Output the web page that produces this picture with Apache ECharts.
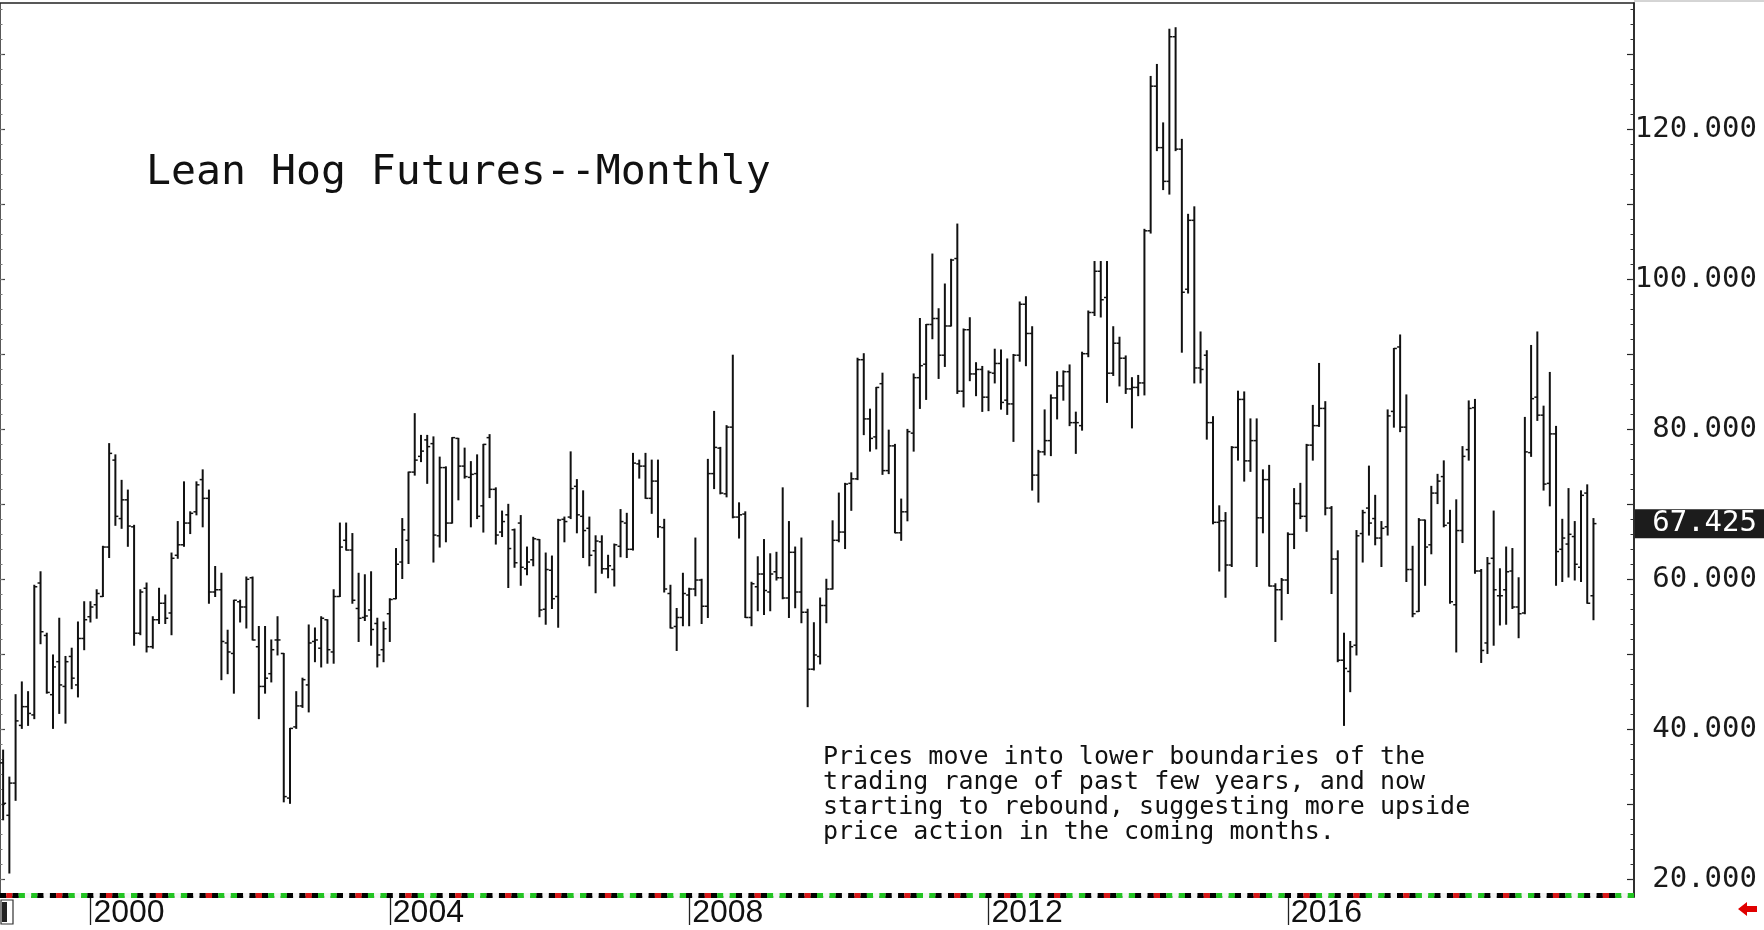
<!DOCTYPE html>
<html><head><meta charset="utf-8">
<script src="https://cdn.jsdelivr.net/npm/echarts@6/dist/echarts.min.js"></script>
<style>html,body{margin:0;padding:0;background:#fff;overflow:hidden}#c{width:1764px;height:930px}</style>
</head><body><div id="c"></div>
<script>
// ---- data ----
const startYear = 1998, startMonth = 11;   // first monthly bar: Nov 1998
const extraMonths = 6;                      // empty months to the right of the last bar
const open = [
35.5,28.5,32.8,40.5,43.0,41.9,59.5,52.5,44.6,49.0,
45.7,49.7,45.9,52.1,55.0,56.6,57.7,64.3,75.9,68.1,
70.6,67.0,52.8,58.8,51.0,54.6,56.8,55.5,63.2,64.6,
67.5,69.0,73.3,70.8,58.3,58.6,51.5,50.1,57.0,56.3,
60.2,51.0,45.7,47.4,51.9,50.1,30.8,40.3,43.1,45.9,
51.7,50.8,54.6,50.3,57.7,65.2,63.9,56.1,54.9,55.9,
54.1,50.6,55.4,57.4,62.3,65.2,74.3,76.4,78.6,78.1,
65.8,74.9,67.5,78.8,75.1,73.6,74.1,69.8,78.9,72.0,
66.3,68.6,66.6,67.5,61.4,62.6,65.3,56.0,61.2,57.7,
68.0,68.3,72.4,68.4,66.8,63.8,65.0,61.4,61.3,64.4,
67.5,64.0,75.4,75.1,70.8,73.1,66.9,58.1,53.7,54.9,
57.9,58.7,59.9,56.4,74.1,77.5,71.4,80.3,68.3,68.7,
54.9,59.0,60.7,58.3,61.0,60.2,57.5,63.6,58.3,55.6,
48.0,49.7,56.5,58.7,65.2,66.3,72.8,73.4,89.3,81.4,
79.0,86.1,74.5,77.8,66.2,69.0,79.5,86.9,88.7,94.0,
94.8,89.9,93.8,102.8,85.1,93.3,87.4,88.0,84.3,87.5,
88.8,83.9,83.4,89.9,96.7,92.8,73.9,77.0,78.5,84.2,
85.8,87.7,80.9,80.5,90.1,95.6,101.1,97.6,87.5,91.5,
89.5,85.4,85.6,86.2,106.5,125.8,117.6,113.1,132.4,117.4,
98.7,107.9,88.2,89.9,80.9,67.6,67.8,61.9,77.6,84.0,
75.8,78.5,68.2,73.3,59.1,58.6,59.9,66.0,70.1,68.4,
77.9,80.5,82.8,69.5,62.7,49.2,47.7,51.2,66.1,69.5,
68.1,65.5,67.0,82.4,91.0,80.3,61.3,55.7,67.9,64.6,
71.5,73.7,67.5,56.6,66.5,77.3,82.9,61.1,51.5,62.8,
57.8,58.6,61.1,56.3,55.5,76.9,84.3,81.9,72.8,79.4,
64.0,64.7,65.7,61.6,71.5,57.8];
const high = [
37.2,33.6,44.6,46.3,45.0,59.2,61.0,52.8,49.9,54.8,
49.7,50.8,54.3,57.0,57.0,58.6,64.4,78.1,76.6,73.2,
71.9,67.2,58.6,59.5,55.0,58.8,57.9,63.5,67.7,73.0,
69.0,73.0,74.6,71.9,61.7,60.8,53.2,57.2,57.2,60.3,
60.3,53.7,53.7,51.9,55.0,50.1,40.1,45.0,46.8,53.9,
53.5,55.0,54.6,58.6,67.5,67.5,66.1,60.8,60.6,61.0,
54.8,54.3,57.4,64.1,68.1,74.3,82.1,79.2,79.2,79.0,
76.3,75.0,78.9,78.8,77.5,75.7,76.6,78.0,79.3,72.2,
69.1,70.0,66.7,68.5,64.3,65.6,65.3,63.5,63.1,68.0,
68.3,77.0,73.3,71.8,68.3,65.8,65.8,63.2,64.7,69.3,
68.8,76.8,75.9,76.8,75.9,75.9,68.0,59.2,56.1,60.8,
58.8,65.5,60.0,76.0,82.4,77.6,80.5,89.9,70.2,69.0,
59.6,63.0,65.3,63.4,63.6,72.2,67.7,64.3,65.5,56.0,
54.2,57.5,60.0,67.8,71.5,72.8,74.2,89.5,90.1,82.7,
85.6,87.5,79.9,78.0,70.7,80.0,87.4,94.8,94.0,103.4,
96.1,99.4,102.7,107.4,93.4,94.9,88.9,88.4,87.8,90.7,
90.6,89.4,90.0,97.0,97.7,93.7,77.2,82.6,84.6,87.7,
87.8,88.6,82.3,90.3,95.8,102.4,102.4,102.4,93.7,92.3,
89.8,86.9,87.2,106.7,127.1,128.7,120.9,133.4,133.6,118.7,
108.7,109.7,93.0,90.5,81.7,69.8,68.9,77.7,85.1,85.0,
81.4,81.4,74.6,75.2,59.4,60.1,66.2,72.1,72.8,78.0,
83.2,88.8,83.7,69.7,63.8,52.8,51.7,66.5,69.2,75.1,
71.2,67.7,82.6,90.8,92.6,84.6,64.4,68.1,67.9,72.4,
74.0,75.8,69.2,70.6,77.7,83.8,84.0,61.3,62.9,69.1,
61.4,64.3,64.1,60.2,81.6,91.2,93.0,83.1,87.6,80.4,
68.0,72.1,67.7,71.8,72.6,68.1];
const low = [
27.9,20.8,30.5,40.1,40.5,41.4,51.4,44.8,40.1,42.1,
40.8,45.4,44.3,50.6,54.3,54.8,57.7,62.9,67.2,66.8,
64.4,51.2,52.6,50.3,50.8,54.1,54.1,52.6,62.8,64.4,
66.1,68.6,67.0,56.8,57.7,46.6,47.4,44.8,54.3,53.5,
51.9,41.4,44.8,46.3,49.9,30.3,30.1,40.1,42.9,42.3,
49.0,48.3,48.8,48.8,57.7,63.9,56.8,51.7,54.5,51.2,
48.3,49.0,51.7,57.4,60.1,62.1,73.9,75.7,72.8,62.3,
64.3,65.0,67.5,70.6,73.5,67.0,68.1,66.3,70.9,64.7,
65.7,58.9,61.6,59.2,60.6,61.8,55.0,54.0,56.1,53.6,
65.0,68.1,66.2,62.9,61.8,58.2,60.8,60.2,59.1,63.0,
62.9,63.9,73.5,70.8,68.8,65.6,58.3,53.5,50.5,53.8,
53.8,57.8,54.1,54.9,72.1,71.4,71.0,68.2,65.5,54.9,
53.8,55.8,55.3,55.8,59.9,57.4,54.9,56.2,54.2,43.0,
47.9,48.7,54.2,58.7,65.0,64.1,69.2,73.3,79.3,77.1,
77.4,74.0,74.1,66.2,65.2,67.8,77.1,82.8,84.0,92.1,
86.8,88.4,93.8,84.8,83.0,86.5,84.5,82.4,82.5,86.2,
82.7,82.0,78.4,89.1,88.5,71.9,70.3,76.6,76.5,81.4,
83.9,80.5,76.8,79.9,89.7,95.2,95.0,83.6,87.2,85.8,
84.8,80.2,84.5,84.6,106.2,117.2,112.0,111.4,117.2,90.3,
98.2,86.2,86.2,78.7,67.4,61.1,57.6,61.7,75.9,73.1,
74.4,61.7,66.2,59.1,51.7,54.6,58.1,64.1,68.1,66.4,
75.9,80.4,68.6,58.1,49.0,40.5,45.0,49.9,62.3,65.9,
64.6,61.7,65.9,80.3,79.7,59.7,55.0,55.7,59.2,63.4,
70.1,67.0,56.8,50.3,64.9,75.9,60.8,48.9,50.1,51.2,
53.9,54.0,56.1,52.2,55.4,76.4,81.2,71.9,69.8,59.2,
59.7,60.3,59.9,59.7,56.8,54.6];
const close = [
30.1,32.8,41.1,43.0,42.1,59.0,53.0,44.9,48.3,45.9,
49.0,46.8,52.1,54.6,56.3,58.1,64.3,76.8,68.4,70.6,
67.1,52.8,58.3,51.0,54.6,56.8,54.8,62.8,64.6,67.5,
68.8,72.6,70.8,58.3,58.6,51.7,50.3,57.2,56.3,60.0,
51.9,45.7,46.8,50.6,51.9,31.0,40.1,43.1,46.6,51.5,
51.9,54.8,50.6,57.7,64.3,63.9,57.2,54.8,55.1,53.3,
49.9,53.4,57.3,62.0,66.6,74.3,75.9,77.1,77.7,65.9,
74.9,67.5,78.9,75.1,73.7,74.0,68.4,78.0,72.0,65.9,
67.7,64.1,62.2,61.6,62.3,65.4,55.9,61.3,57.4,67.9,
67.7,72.1,68.6,66.5,63.2,65.1,61.4,61.8,64.6,67.7,
64.0,75.5,75.1,70.8,73.1,67.0,58.7,53.5,54.9,58.1,
58.7,59.9,56.4,74.1,77.6,71.5,80.3,68.3,68.6,54.9,
59.4,60.7,58.5,60.7,60.2,57.5,63.6,58.3,55.6,48.0,
49.9,56.5,58.7,65.2,66.3,72.7,73.4,89.3,81.4,78.8,
85.6,74.5,77.8,66.2,69.0,79.7,86.9,88.5,94.0,94.8,
89.9,93.8,102.6,85.1,93.3,87.4,88.0,84.3,87.6,88.8,
83.6,83.4,89.9,96.7,92.8,73.9,77.0,78.5,84.2,85.8,
87.7,80.9,80.9,90.1,95.6,101.1,97.3,87.5,91.5,89.5,
85.4,85.6,86.2,106.5,125.8,117.6,113.1,132.4,117.4,98.3,
107.9,88.2,88.0,80.9,67.6,67.8,61.9,77.6,84.0,75.8,
78.5,68.2,73.3,59.1,58.6,59.9,66.0,70.1,68.4,77.9,
80.5,82.8,69.5,62.7,49.2,48.1,51.0,65.8,68.9,67.5,
65.5,66.8,81.8,90.8,80.3,61.3,55.4,67.9,64.3,71.5,
73.1,67.2,57.0,66.5,76.4,82.8,61.1,50.5,62.1,58.6,
57.8,61.0,56.3,55.4,77.0,84.1,81.9,72.7,79.4,63.7,
65.5,66.0,62.0,71.2,56.8,67.425];
const yLabelValues = [20, 40, 60, 80, 100, 120];
const xLabelYears = [2000, 2004, 2008, 2012, 2016];
const lastPrice = 67.425;
const titleText = 'Lean Hog Futures--Monthly';
const noteLines = [
  'Prices move into lower boundaries of the',
  'trading range of past few years, and now',
  'starting to rebound, suggesting more upside',
  'price action in the coming months.'
];

// ---- derived ----
const categories = [];
for (let i = 0; i < open.length + extraMonths; i++) {
  const m = startMonth - 1 + i;
  categories.push((startYear + Math.floor(m / 12)) + '-' + String(m % 12 + 1).padStart(2, '0'));
}
const ohlc = open.map((o, i) => [i, o, close[i], low[i], high[i]]);
const stripData = categories.map((c, i) => [i]);

// ---- styles ----
const yMin = 17.6, yMax = 136.9;
const INK = '#111';
const stripColors = ['#000', '#d81818', '#000', '#22c422', '#f4f4f4', '#22c422', '#000', '#f4f4f4'];
function tickVals(step) { const a = []; for (let v = Math.ceil(yMin / step) * step; v <= yMax; v += step) a.push(+v.toFixed(3)); return a; }
const isYearTick = (idx, val) => /-01$/.test(val) && xLabelYears.indexOf(+val.slice(0, 4)) >= 0;

const chart = echarts.init(document.getElementById('c'), null, { renderer: 'canvas' });

function renderOHLC(params, api) {
  const i = api.value(0);
  const o = api.coord([i, api.value(1)]);
  const c = api.coord([i, api.value(2)]);
  const l = api.coord([i, api.value(3)]);
  const h = api.coord([i, api.value(4)]);
  const t = api.size([1, 0])[0] * 0.48;
  const x = o[0];
  return {
    type: 'group', children: [
      { type: 'line', shape: { x1: x, y1: h[1] - 0.5, x2: x, y2: l[1] + 0.5 }, style: { stroke: INK, lineWidth: 2 } },
      { type: 'line', shape: { x1: x - t, y1: o[1], x2: x, y2: o[1] }, style: { stroke: INK, lineWidth: 1.5 } },
      { type: 'line', shape: { x1: x, y1: c[1], x2: x + t, y2: c[1] }, style: { stroke: INK, lineWidth: 1.5 } }
    ]
  };
}
function renderStrip(params, api) {
  const i = api.value(0);
  const p = api.coord([i, yMin]);
  const w = api.size([1, 0])[0];
  const cs = params.coordSys;
  const yb = cs.y + cs.height;
  return { type: 'rect', shape: { x: p[0] - w / 2, y: yb - 4, width: w, height: 5 },
           style: { fill: stripColors[i % stripColors.length] } };
}

const valueAxisBase = { type: 'value', min: yMin, max: yMax, splitLine: { show: false } };

chart.setOption({
  animation: false,
  backgroundColor: '#fff',
  grid: { left: -1.4, right: 130, top: 3, bottom: 33, show: true, borderColor: '#222', borderWidth: 1.5, backgroundColor: 'transparent' },
  xAxis: {
    type: 'category', data: categories, boundaryGap: true,
    axisLine: { show: false },
    axisTick: { show: true, interval: isYearTick, alignWithLabel: true, length: 28, lineStyle: { color: '#222', width: 1.3 } },
    axisLabel: {
      show: true, interval: isYearTick, formatter: v => v.slice(0, 4), align: 'left',
      fontFamily: '"Liberation Sans Narrow","Arial Narrow","Liberation Sans",sans-serif',
      fontSize: 32, lineHeight: 28, verticalAlign: 'top', margin: 2, padding: [0, 0, 0, 3], color: '#111'
    },
    splitLine: { show: false }
  },
  yAxis: [
    Object.assign({}, valueAxisBase, {
      position: 'right',
      axisLine: { show: true, lineStyle: { color: '#222', width: 1.5 } },
      axisTick: { show: true, inside: true, length: 7, customValues: tickVals(10), lineStyle: { color: '#222', width: 1.2 } },
      axisLabel: { show: true, customValues: yLabelValues, formatter: v => Number(v).toFixed(3), align: 'right', margin: 123,
                   fontFamily: '"DejaVu Sans Mono",monospace', fontSize: 29, color: '#1a1a1a' }
    }),
    Object.assign({}, valueAxisBase, {
      position: 'right',
      axisLine: { show: false },
      axisTick: { show: true, inside: true, length: 3.5, customValues: tickVals(2), lineStyle: { color: '#333', width: 1 } },
      axisLabel: { show: false }
    }),
    Object.assign({}, valueAxisBase, {
      position: 'left',
      axisLine: { show: false },
      axisTick: { show: true, inside: true, length: 5, customValues: tickVals(10), lineStyle: { color: '#444', width: 1.2 } },
      axisLabel: { show: false }
    }),
    Object.assign({}, valueAxisBase, {
      position: 'left',
      axisLine: { show: false },
      axisTick: { show: true, inside: true, length: 2.5, customValues: tickVals(2), lineStyle: { color: '#777', width: 1 } },
      axisLabel: { show: false }
    })
  ],
  series: [
    { type: 'custom', name: 'Lean Hogs', renderItem: renderOHLC, data: ohlc, encode: { x: 0, y: [1, 2, 3, 4] }, clip: true, z: 3 },
    { type: 'custom', name: 'strip', renderItem: renderStrip, data: stripData, encode: { x: 0 }, clip: false, silent: true, z: 4 }
  ]
});

// last price tag on the right axis, placed with the axis scale
const py = chart.convertToPixel({ yAxisIndex: 0 }, lastPrice);
const axisX = chart.convertToPixel({ xAxisIndex: 0 }, categories[categories.length - 1]) + 3.1;
chart.setOption({
  graphic: [
    { type: 'text', x: 146, y: 173, style: { text: titleText, font: '41.5px "DejaVu Sans Mono", monospace', fill: '#111', align: 'left', verticalAlign: 'middle' } },
    { type: 'text', x: 823, y: 745, style: { text: noteLines.join('\n'), font: '25px "DejaVu Sans Mono", monospace', lineHeight: 25, fill: '#111', align: 'left', verticalAlign: 'top' } },
    { type: 'rect', shape: { x: axisX + 1, y: py - 14.5, width: 1764 - axisX, height: 29 }, style: { fill: '#1c1c1c' }, z: 10 },
    { type: 'text', x: 1757, y: py, style: { text: lastPrice.toFixed(3), font: '29px "DejaVu Sans Mono", monospace', fill: '#fff', align: 'right', verticalAlign: 'middle' }, z: 11 },
    { type: 'polygon', shape: { points: [[1738, 909], [1747, 902], [1747, 906], [1757, 906], [1757, 912], [1747, 912], [1747, 916]] }, style: { fill: '#e00000' } },
    { type: 'rect', shape: { x: 1, y: 900, width: 12, height: 24 }, style: { fill: 'none', stroke: '#333', lineWidth: 1.2 } },
    { type: 'rect', shape: { x: 2, y: 902, width: 5, height: 20 }, style: { fill: '#222' } },
    { type: 'line', shape: { x1: axisX, y1: 1, x2: 1764, y2: 1 }, style: { stroke: '#aaa', lineWidth: 1 } }
  ]
});
</script>
</body></html>
